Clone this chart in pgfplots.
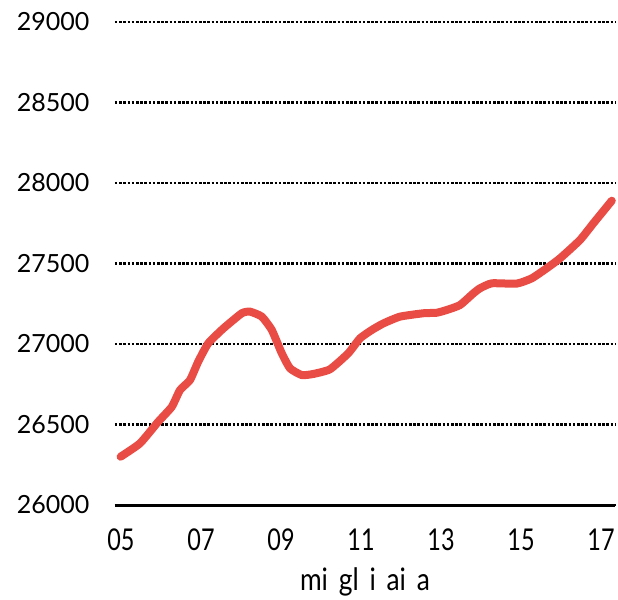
\documentclass[border=0pt]{standalone}
\usepackage{fontspec}
\setmainfont{Lato}
\newfontfamily\narrowfont[FakeStretch=0.78]{Lato}
\newfontfamily\labelfont[FakeStretch=0.85,WordSpace=1.6]{Lato}
\usepackage{pgfplots}
\pgfplotsset{compat=1.18}
\definecolor{linered}{RGB}{232,76,68}
\begin{document}
\begin{tikzpicture}
\path (0pt,0pt) rectangle (618pt,598pt);
\begin{axis}[
  at={(115pt,93pt)}, anchor=south west,
  scale only axis, width=500pt, height=483pt,
  xmin=2004.85, xmax=2017.35,
  ymin=26000, ymax=29000,
  axis x line*=bottom,
  axis y line*=left,
  y axis line style={draw=none},
  x axis line style={line width=3pt, -},
  ytick={26000,26500,27000,27500,28000,28500,29000},
  xtick={2005,2007,2009,2011,2013,2015,2017},
  xticklabels={05,07,09,11,13,15,17},
  yticklabel style={font=\fontsize{25}{28}\selectfont, anchor=east, xshift=-22pt},
  xticklabel style={font=\narrowfont\fontsize{30}{32}\selectfont, anchor=north, yshift=-20pt},
  ymajorgrids,
  grid style={black, line width=2.5pt, dash pattern=on 2.5pt off 1.7pt},
  major tick length=0pt,
  clip=false,
  scaled y ticks=false,
  /pgf/number format/assume math mode=true,
  yticklabel={\pgfmathprintnumber[fixed, set thousands separator={}]{\tick}},
  xlabel={mi gl i ai a},
  xlabel style={font=\labelfont\fontsize{31}{34}\selectfont, yshift=-10pt},
]
\addplot[linered, line width=8pt, line cap=round, line join=round, smooth, tension=0.3] coordinates {
(2004.99,26300) (2005.475,26383) (2005.93,26517) (2006.27,26610) (2006.475,26714)
(2006.725,26776) (2006.93,26890) (2007.18,27004) (2007.56,27097) (2008.02,27191)
(2008.225,27201) (2008.52,27170) (2008.77,27087) (2009.02,26942) (2009.225,26849)
(2009.52,26807) (2009.81,26814) (2010.225,26843) (2010.68,26942) (2010.975,27035)
(2011.27,27087) (2011.56,27128) (2011.975,27170) (2012.56,27191) (2012.89,27194)
(2013.14,27211) (2013.475,27242) (2013.81,27315) (2013.975,27346) (2014.27,27377)
(2014.89,27375) (2015.27,27408) (2015.64,27470) (2015.975,27532) (2016.475,27646)
(2016.81,27750) (2017.27,27890)
};
\end{axis}
\end{tikzpicture}
\end{document}
